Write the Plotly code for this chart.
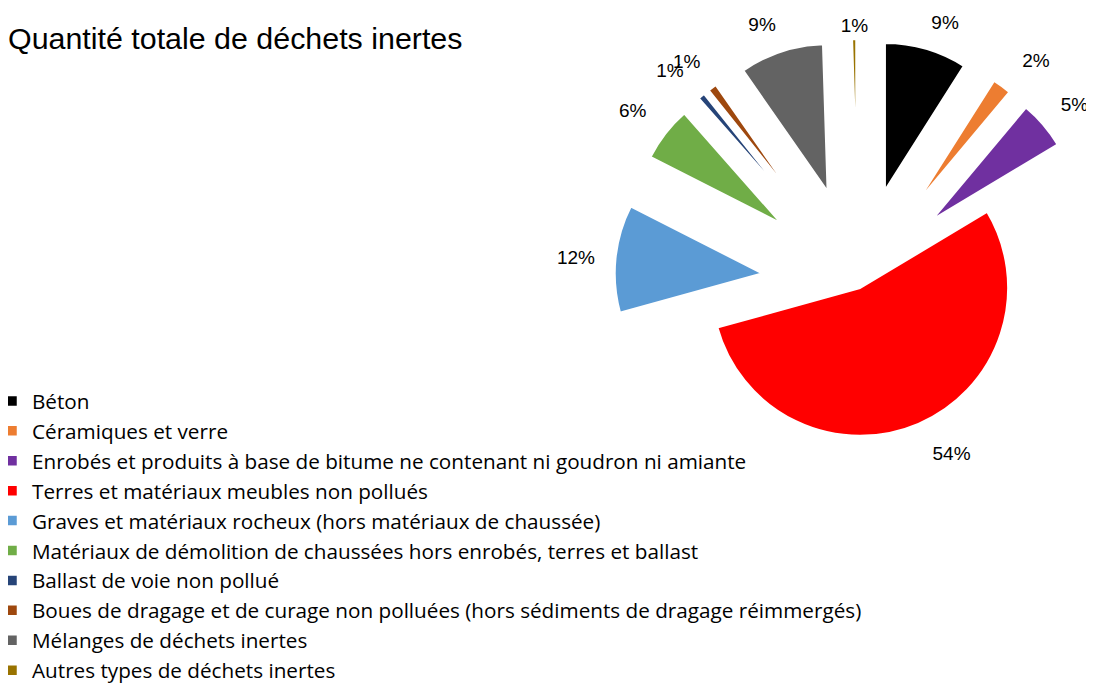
import plotly.graph_objects as go

categories = [
    "Béton",
    "Céramiques et verre",
    "Enrobés et produits à base de bitume ne contenant ni goudron ni amiante",
    "Terres et matériaux meubles non pollués",
    "Graves et matériaux rocheux (hors matériaux de chaussée)",
    "Matériaux de démolition de chaussées hors enrobés, terres et ballast",
    "Ballast de voie non pollué",
    "Boues de dragage et de curage non polluées (hors sédiments de dragage réimmergés)",
    "Mélanges de déchets inertes",
    "Autres types de déchets inertes",
]
shares = [9.0, 2.1, 5.3, 54.3, 11.8, 6.0, 0.8, 1.0, 9.2, 0.5]
colors = ["#000000", "#ED7D31", "#7030A0", "#FF0000", "#5B9BD5",
          "#70AD47", "#264478", "#9E480E", "#636363", "#997300"]
pulls = [0.645, 0.645, 0.645, 0.035, 0.645, 0.645, 0.645, 0.645, 0.645, 0.645]

total = sum(shares)
pct_text = [f"{int(v / total * 100 + 0.5 + 1e-9)}%" for v in shares]

W, H = 1094, 683
CX, CY = 850, 275           # pie centre in figure pixels
label_font = dict(family="Liberation Sans, Arial", size=19, color="#000000")


def box(dx=0.0, dy=0.0):
    cx, cy = CX + dx, CY + dy
    half = min(W - cx, cx, H - cy, cy)
    return dict(x=[(cx - half) / W, (cx + half) / W],
                y=[(H - cy - half) / H, (H - cy + half) / H])


def label_layer(shown, dx=0.0, dy=0.0, pull=None, rotation=0):
    # transparent copy of the pie that only carries some percentage labels,
    # so that labels may sit close to each other as in the original chart
    return go.Pie(
        labels=categories, values=shares, text=pct_text, textinfo="text",
        textposition=["outside" if i in shown else "none" for i in range(len(shares))],
        sort=False, direction="clockwise", rotation=rotation,
        pull=pull or pulls,
        marker=dict(colors=["rgba(0,0,0,0)"] * len(shares), line=dict(width=0)),
        outsidetextfont=label_font, domain=box(dx, dy),
        hoverinfo="skip", showlegend=False,
    )


fig = go.Figure()
fig.add_trace(go.Pie(
    labels=categories,
    values=shares,
    textinfo="none",
    sort=False,
    direction="clockwise",
    rotation=0,
    pull=pulls,
    marker=dict(colors=colors, line=dict(color="white", width=2.5)),
    domain=box(),
    hoverinfo="label+percent",
))
terres_pull = list(pulls)
terres_pull[3] = 0.29
fig.add_trace(label_layer({0, 8}, dy=-17))
fig.add_trace(label_layer({3}, dy=-17, pull=terres_pull, rotation=2))
fig.add_trace(label_layer({1, 2}, dy=-31, rotation=4.5))
fig.add_trace(label_layer({5, 6}, dx=-7.5, dy=-14))
fig.add_trace(label_layer({4}, dx=-7.5))
fig.add_trace(label_layer({7}, dx=-4, dy=-16))
fig.add_trace(label_layer({9}, dx=19, dy=-22))

fig.update_layout(
    width=W, height=H,
    margin=dict(l=0, r=0, t=0, b=0, autoexpand=False),
    paper_bgcolor="white",
    plot_bgcolor="white",
    font=dict(family="Liberation Sans, Arial", color="#000000"),
    showlegend=True,
    legend=dict(x=-16 / W, xanchor="left", y=(H - 373) / H, yanchor="top",
                font=dict(family="Open Sans, Liberation Sans, Arial", size=20.7, color="#000000"),
                bgcolor="rgba(0,0,0,0)", tracegroupgap=0),
    annotations=[dict(
        text="Quantité totale de déchets inertes",
        xref="paper", yref="paper",
        x=-2 / W, xanchor="left",
        y=1 - 29.7 / H, yanchor="middle",
        showarrow=False,
        font=dict(family="Liberation Sans, Arial", size=30.4, color="#000000"),
    )],
)

fig.write_html("out.html")
